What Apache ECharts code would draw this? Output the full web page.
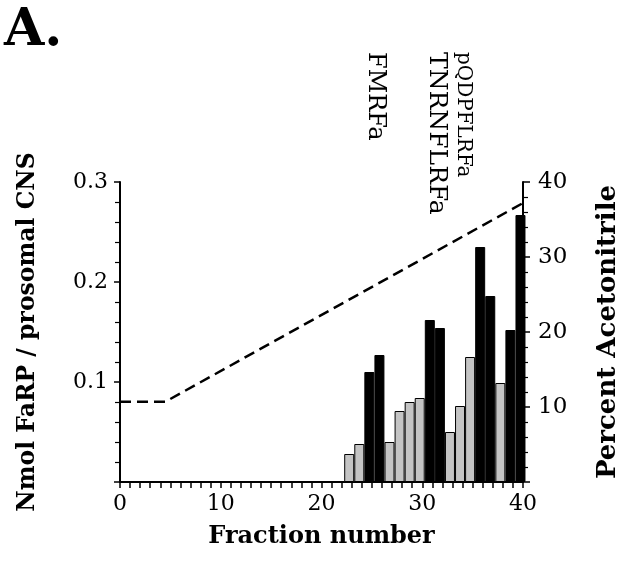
<!DOCTYPE html>
<html>
<head>
    <meta charset="utf-8">
    <title>FaRP fractions</title>
    <script src="https://cdn.jsdelivr.net/npm/echarts@6/dist/echarts.min.js"></script>
    <style>
        html, body { margin: 0; padding: 0; background: #fff; }
        #chart1 { width: 629px; height: 561px; }
    </style>
</head>
<body>
<div id="chart1"></div>
<script type="text/javascript">
    // HPLC fractions with immunoreactivity
    var fractions = [23, 24, 25, 26, 27, 28, 29, 30, 31, 32, 33, 34, 35, 36, 37, 38, 39, 40];
    var farpNmol  = [0.028, 0.038, 0.110, 0.127, 0.040, 0.071, 0.080, 0.084, 0.162, 0.154,
                     0.050, 0.076, 0.125, 0.235, 0.186, 0.099, 0.152, 0.267];
    // 1 = black bar, 0 = stippled bar
    var barKind   = [0, 0, 1, 1, 0, 0, 0, 0, 1, 1, 0, 0, 0, 1, 1, 0, 1, 1];

    // acetonitrile gradient (dashed line)
    var gradientX   = [0, 4.5, 40];
    var gradientPct = [10.7, 10.7, 37.2];

    var leftTicks  = [0.1, 0.2, 0.3];
    var rightTicks = [10, 20, 30, 40];
    var peptides = ['FMRFa', 'TNRNFLRFa', 'pQDPFLRFa'];

    var FONT = 'DejaVu Serif';

    var barData = [];
    for (var i = 0; i < fractions.length; i++) {
        barData.push({
            // bars in the original sit a little left of their tick
            value: [fractions[i] - 0.25, farpNmol[i]],
            itemStyle: barKind[i] === 1
                ? {color: '#000', borderColor: '#000', borderWidth: 1}
                : {color: '#c4c4c4', borderColor: '#000', borderWidth: 1}
        });
    }
    var lineData = gradientX.map(function (x, k) { return [x, gradientPct[k]]; });

    var myChart = echarts.init(document.getElementById('chart1'));
    myChart.setOption({
        animation: false,
        backgroundColor: '#fff',
        grid: {left: 120, right: 103, top: 182, bottom: 79},
        xAxis: {
            type: 'value',
            min: 0, max: 40, interval: 10,
            name: 'Fraction number',
            nameLocation: 'middle',
            nameGap: 43,
            nameTextStyle: {fontFamily: FONT, fontWeight: 'bold', fontSize: 24, color: '#000'},
            axisLine: {lineStyle: {color: '#000', width: 2}},
            axisTick: {length: 6, lineStyle: {color: '#000', width: 1.5}},
            minorTick: {show: true, splitNumber: 10, length: 6, lineStyle: {color: '#000', width: 1.5}},
            axisLabel: {fontFamily: FONT, fontSize: 22, color: '#000', margin: 11},
            splitLine: {show: false}
        },
        yAxis: [{
            type: 'value',
            min: 0, max: 0.3, interval: 0.1,
            name: 'Nmol FaRP / prosomal CNS',
            nameLocation: 'middle',
            nameRotate: 90,
            nameGap: 80,
            nameTextStyle: {fontFamily: FONT, fontWeight: 'bold', fontSize: 23.5, color: '#000'},
            axisLine: {show: true, lineStyle: {color: '#000', width: 2}},
            axisTick: {show: true, length: 6, lineStyle: {color: '#000', width: 1.5}},
            minorTick: {show: true, splitNumber: 5, length: 5, lineStyle: {color: '#000', width: 1.2}},
            axisLabel: {
                fontFamily: FONT, fontSize: 22, color: '#000', margin: 12,
                formatter: function (v) {
                    var t = leftTicks.filter(function (x) { return Math.abs(x - v) < 1e-6; });
                    return t.length ? t[0].toFixed(1) : '';
                }
            },
            splitLine: {show: false}
        }, {
            type: 'value',
            position: 'right',
            min: 0, max: 40, interval: 10,
            name: 'Percent Acetonitrile',
            nameLocation: 'middle',
            nameRotate: 90,
            nameGap: 72,
            nameTextStyle: {fontFamily: FONT, fontWeight: 'bold', fontSize: 26, color: '#000'},
            axisLine: {show: true, lineStyle: {color: '#000', width: 2}},
            axisTick: {show: true, length: 7, lineStyle: {color: '#000', width: 1.5}},
            minorTick: {show: true, splitNumber: 5, length: 5, lineStyle: {color: '#000', width: 1.2}},
            axisLabel: {
                fontFamily: FONT, fontSize: 23, color: '#000', margin: 15,
                formatter: function (v) { return rightTicks.indexOf(v) >= 0 ? String(v) : ''; }
            },
            splitLine: {show: false}
        }],
        series: [{
            name: 'FaRP',
            type: 'bar',
            barWidth: 10,
            clip: false,
            data: barData
        }, {
            name: 'Acetonitrile',
            type: 'line',
            yAxisIndex: 1,
            symbol: 'none',
            lineStyle: {color: '#000', width: 2.5, type: [11, 6]},
            data: lineData
        }],
        graphic: [
            {type: 'text', left: 4, top: 5,
             style: {text: 'A.', font: 'bold 52px "DejaVu Serif"', fill: '#000'}},
            {type: 'text', x: 375, y: 52, rotation: -Math.PI / 2,
             style: {text: peptides[0], font: '24px "DejaVu Serif"', fill: '#000',
                     textAlign: 'left', textVerticalAlign: 'middle'}},
            {type: 'text', x: 436, y: 52, rotation: -Math.PI / 2,
             style: {text: peptides[1], font: '25px "DejaVu Serif"', fill: '#000',
                     textAlign: 'left', textVerticalAlign: 'middle'}},
            {type: 'text', x: 463, y: 52, rotation: -Math.PI / 2,
             style: {text: peptides[2], font: '20px "DejaVu Serif"', fill: '#000',
                     textAlign: 'left', textVerticalAlign: 'middle'}}
        ]
    });
</script>
</body>
</html>
